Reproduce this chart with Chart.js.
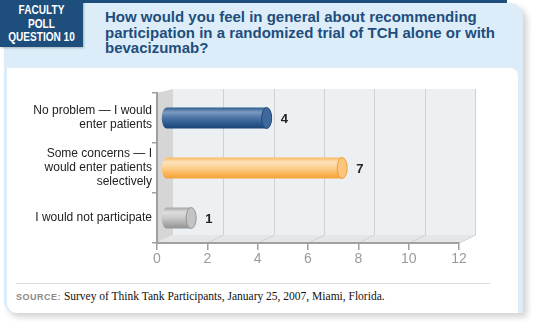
<!DOCTYPE html>
<html>
<head>
<meta charset="utf-8">
<script src="https://cdn.jsdelivr.net/npm/chart.js@4"></script>
<style>
  html, body { margin: 0; padding: 0; background: #fff; }
  #wrap { position: relative; width: 540px; height: 329px; overflow: hidden; font-family: "Liberation Sans", Arial, sans-serif; }
  .outer { position: absolute; left: 4px; top: 3px; width: 519px; height: 310px; background: #dcedf9;
           border-top-right-radius: 14px; border-bottom-left-radius: 12px; box-shadow: 4px 4px 6px rgba(0,0,0,0.18); }
  .inner { position: absolute; left: 7px; top: 68px; width: 511px; height: 245px; background: #fff;
           border-top-right-radius: 8px; border-bottom-left-radius: 10px; }
  .topline { position: absolute; left: 83px; top: 0; width: 424px; height: 3px; background: #1e4e7c; }
  .badge { position: absolute; left: 0; top: 0; width: 83px; height: 47px; background: #1e4e7c;
           box-shadow: 1px 1px 2px rgba(0,0,0,0.25); }
  .badge div { position: absolute; left: 0; top: 4px; width: 83px; color: #fff; text-align: center;
           font: bold 12px/13.5px "Liberation Sans", sans-serif; transform: scaleX(0.84); transform-origin: 41.5px 0; }
  .title { position: absolute; left: 105px; top: 9px; width: 410px; color: #1f4e7c;
           font: bold 15px/15.5px "Liberation Sans", sans-serif; }
  .sep { position: absolute; left: 16px; top: 283px; width: 474px; height: 1px; background: #dedede; }
  .source { position: absolute; left: 16px; top: 290px; font: 11.5px "Liberation Serif", "DejaVu Serif", serif; color: #111; }
  .source b { font: bold 9px "Liberation Sans", sans-serif; color: #8a8a8a; letter-spacing: 0.5px; }
  canvas { position: absolute; left: 0; top: 0; }
</style>
</head>
<body>
<div id="wrap">
  <div class="outer"></div>
  <div class="inner"></div>
  <div class="topline"></div>
  <div class="badge"><div>FACULTY<br>POLL<br>QUESTION 10</div></div>
  <div class="title">How would you feel in general about recommending<br>participation in a randomized trial of TCH alone or with<br>bevacizumab?</div>
  <div class="sep"></div>
  <div class="source"><b>SOURCE:</b> Survey of Think Tank Participants, January 25, 2007, Miami, Florida.</div>
  <canvas id="poll" width="540" height="329"></canvas>
</div>
<script>
// answer categories (multi-line labels as arrays)
const categories = [
  ['No problem \u2014 I would', 'enter patients'],
  ['Some concerns \u2014 I', 'would enter patients', 'selectively'],
  'I would not participate'
];
const responses = [4, 7, 1];
const axisMin = 0;
const axisMax = 12;
const axisStep = 2;

// cylinder palettes: body gradient stops, cap fill, cap edge
const palettes = [
  { stops: ['#2f5a8c', '#7c9bc3', '#4b73a5', '#26548a', '#1a4474'], cap: '#3f689b', edge: '#234c7e' },
  { stops: ['#f8b960', '#fee3bb', '#fcd08f', '#f9b04d', '#f2a238'], cap: '#fbc679', edge: '#eea03a' },
  { stops: ['#a6a6a6', '#dedede', '#c9c9c9', '#a5a5a5', '#949494'], cap: '#c4c4c4', edge: '#979797' }
];

const DEPTH_X = 16, DEPTH_Y = 8;   // 3d wall offset
const BAR_SHIFT = 9, CAP_RX = 5;   // cylinder offset into depth

const wallsPlugin = {
  id: 'walls',
  beforeDraw(chart) {
    const { ctx, chartArea: a, scales } = chart;
    const xs = scales.x;
    ctx.save();
    // back wall
    ctx.fillStyle = '#edf0f3';
    ctx.fillRect(a.left + DEPTH_X, a.top - 4, a.right - a.left, a.bottom - DEPTH_Y - a.top + 4);
    // left wall
    ctx.fillStyle = '#d6d6d6';
    ctx.beginPath();
    ctx.moveTo(a.left, a.top);
    ctx.lineTo(a.left + DEPTH_X, a.top - 4);
    ctx.lineTo(a.left + DEPTH_X, a.bottom - DEPTH_Y);
    ctx.lineTo(a.left, a.bottom);
    ctx.closePath();
    ctx.fill();
    // floor
    ctx.fillStyle = '#e4e6e8';
    ctx.beginPath();
    ctx.moveTo(a.left, a.bottom);
    ctx.lineTo(a.right, a.bottom);
    ctx.lineTo(a.right + DEPTH_X, a.bottom - DEPTH_Y);
    ctx.lineTo(a.left + DEPTH_X, a.bottom - DEPTH_Y);
    ctx.closePath();
    ctx.fill();
    // grid lines on back wall and floor
    ctx.strokeStyle = '#cfd1d3';
    ctx.lineWidth = 1;
    for (let v = axisMin + axisStep; v <= axisMax; v += axisStep) {
      const x = Math.round(xs.getPixelForValue(v)) + 0.5;
      ctx.beginPath();
      ctx.moveTo(x + DEPTH_X, a.top - 4);
      ctx.lineTo(x + DEPTH_X, a.bottom - DEPTH_Y);
      ctx.lineTo(x, a.bottom);
      ctx.stroke();
    }
    ctx.restore();
  },
  afterDatasetsDraw(chart) {
    const { ctx } = chart;
    const meta = chart.getDatasetMeta(0);
    ctx.save();
    meta.data.forEach((bar, i) => {
      const p = palettes[i];
      const h = bar.height;
      const top = bar.y - h / 2;
      const x0 = bar.base + BAR_SHIFT;
      const x1 = bar.x + BAR_SHIFT;
      const g = ctx.createLinearGradient(0, top, 0, top + h);
      p.stops.forEach((c, k) => g.addColorStop([0, 0.22, 0.5, 0.82, 1][k], c));
      // body with rounded left end
      ctx.fillStyle = g;
      ctx.beginPath();
      ctx.moveTo(x1, top);
      ctx.lineTo(x0, top);
      ctx.ellipse(x0, bar.y, CAP_RX, h / 2, 0, -Math.PI / 2, Math.PI / 2, true);
      ctx.lineTo(x1, top + h);
      ctx.closePath();
      ctx.fill();
      // right end face
      ctx.fillStyle = p.cap;
      ctx.strokeStyle = p.edge;
      ctx.lineWidth = 1;
      ctx.beginPath();
      ctx.ellipse(x1, bar.y, CAP_RX, h / 2, 0, 0, Math.PI * 2);
      ctx.fill();
      ctx.stroke();
      // value label
      ctx.fillStyle = '#222';
      ctx.font = 'bold 13px "Liberation Sans", Arial, sans-serif';
      ctx.textAlign = 'left';
      ctx.textBaseline = 'middle';
      ctx.fillText(String(responses[i]), x1 + CAP_RX + 9, bar.y + 1);
    });
    ctx.restore();
  }
};

new Chart(document.getElementById('poll').getContext('2d'), {
  type: 'bar',
  data: {
    labels: categories,
    datasets: [{
      data: responses,
      backgroundColor: 'rgba(0,0,0,0)',
      borderWidth: 0,
      barThickness: 21
    }]
  },
  options: {
    indexAxis: 'y',
    responsive: false,
    animation: false,
    devicePixelRatio: 1,
    layout: { padding: { left: 0, right: 81, top: 93, bottom: 56 } },
    plugins: { legend: { display: false }, tooltip: { enabled: false } },
    scales: {
      x: {
        min: axisMin,
        max: axisMax,
        afterFit: s => { s.height = 30; },
        grid: { drawOnChartArea: false, tickLength: 7, color: '#a0a0a0', lineWidth: 1.5 },
        border: { color: '#a0a0a0', width: 2 },
        ticks: {
          stepSize: axisStep,
          padding: 1,
          color: '#9a9a9a',
          font: { family: '"Liberation Sans", Arial, sans-serif', size: 14 }
        }
      },
      y: {
        afterFit: s => { s.width = 157; },
        grid: { drawOnChartArea: false, tickLength: 5, color: '#a0a0a0', lineWidth: 1.5, offset: true },
        border: { color: '#a0a0a0', width: 2 },
        ticks: {
          padding: 0,
          color: '#222',
          font: { family: '"Liberation Sans", Arial, sans-serif', size: 12, lineHeight: 1.17 }
        }
      }
    }
  },
  plugins: [wallsPlugin]
});
</script>
</body>
</html>
